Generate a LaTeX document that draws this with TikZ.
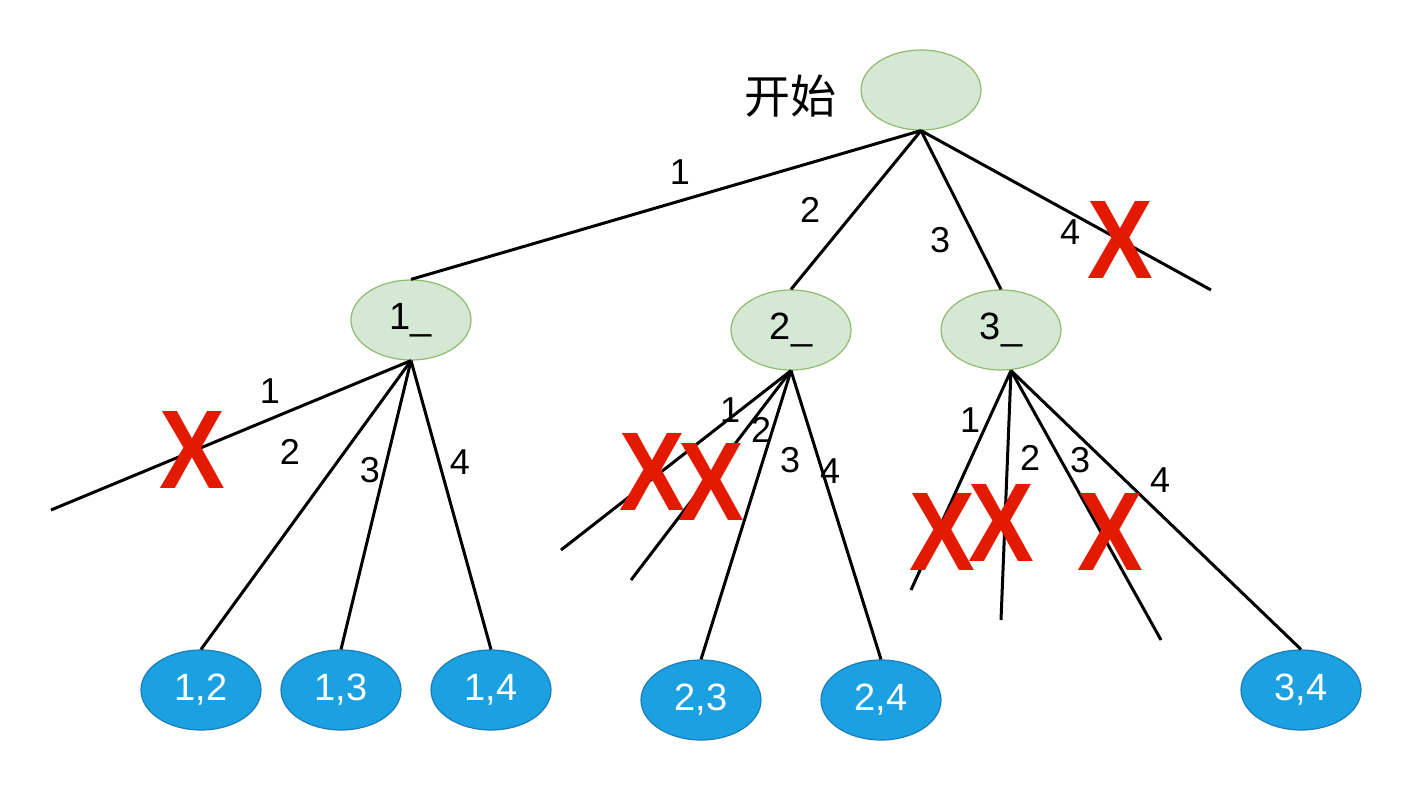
\documentclass[tikz,border=0pt]{standalone}
\usepackage{fontspec}
\setmainfont{Liberation Sans}
\newfontfamily\cjk{Noto Sans CJK SC}
\usetikzlibrary{shapes.geometric}
\definecolor{stategreen}{HTML}{D5E8D4}
\definecolor{stateline}{HTML}{8DBB70}
\definecolor{leafblue}{HTML}{1BA1E2}
\definecolor{leafline}{HTML}{1A7DB8}
\definecolor{crossred}{HTML}{E31A00}
\tikzset{
	state/.style={ellipse,draw=stateline,fill=stategreen,line width=0.6pt,minimum width=60pt,minimum height=40pt,inner sep=0pt,font=\fontsize{19}{19}\selectfont},
	leaf/.style={ellipse,draw=leafline,fill=leafblue,text=white,line width=0.6pt,minimum width=60pt,minimum height=40pt,inner sep=0pt,font=\fontsize{19}{19}\selectfont},
	lbl/.style={font=\fontsize{18}{18}\selectfont,inner sep=0pt},
	cross/.style={text=crossred,font=\bfseries\fontsize{56}{56}\selectfont,xscale=0.88,inner sep=0pt}
}
\begin{document}
\begin{tikzpicture}[x=0.5pt,y=-0.5pt,line width=1.5pt]
\useasboundingbox (0,0) rectangle (1412,792);
% states
\node[state] (root) at (921,90) {};
\node[font=\cjk\fontsize{23}{23}\selectfont] (start) at (790,96) {开始};
\node[state] (s1) at (411,320) {1\_};
\node[state] (s2) at (791,330) {2\_};
\node[state] (s3) at (1001,330) {3\_};
% solutions
\node[leaf] (l12) at (201,690) {1,2};
\node[leaf] (l13) at (341,690) {1,3};
\node[leaf] (l14) at (491,690) {1,4};
\node[leaf] (l23) at (701,700) {2,3};
\node[leaf] (l24) at (881,700) {2,4};
\node[leaf] (l34) at (1301,690) {3,4};
% dead ends
\coordinate (r4) at (1211,290);
\coordinate (a1) at (51,510);
\coordinate (b1) at (561,550);
\coordinate (b2) at (631,580);
\coordinate (c1) at (911,590);
\coordinate (c2) at (1001,620);
\coordinate (c3) at (1161,640);
% level 1
\draw (root.south) -- (s1.north);
\draw (root.south) -- (s2.north);
\draw (root.south) -- (s3.north);
\draw (root.south) -- (r4);
\node[lbl] at (680,172) {1};
\node[lbl] at (810,210) {2};
\node[lbl] at (940,240) {3};
\node[lbl] at (1070,232) {4};
% level 2
\draw (s1.south) -- (a1);
\draw (s1.south) -- (l12.north);
\draw (s1.south) -- (l13.north);
\draw (s1.south) -- (l14.north);
\node[lbl] at (270,391) {1};
\node[lbl] at (290,452) {2};
\node[lbl] at (370,470) {3};
\node[lbl] at (460,462) {4};
\draw (s2.south) -- (b1);
\draw (s2.south) -- (b2);
\draw (s2.south) -- (l23.north);
\draw (s2.south) -- (l24.north);
\node[lbl] at (730,410) {1};
\node[lbl] at (761,430) {2};
\node[lbl] at (790,460) {3};
\node[lbl] at (830,471) {4};
\draw ([xshift=5pt]s3.south) -- (c1);
\draw ([xshift=5pt]s3.south) -- (c2);
\draw ([xshift=5pt]s3.south) -- (c3);
\draw ([xshift=5pt]s3.south) -- (l34.north);
\node[lbl] at (970,420) {1};
\node[lbl] at (1030,458) {2};
\node[lbl] at (1080,460) {3};
\node[lbl] at (1160,480) {4};
% crosses
\node[cross] (x4) at (1120,240) {X};
\node[cross] (xa) at (192,450) {X};
\node[cross] (xb1) at (652,472) {X};
\node[cross] (xb2) at (711,482) {X};
\node[cross] (xc1) at (942,532) {X};
\node[cross] (xc2) at (1001,523) {X};
\node[cross] (xc3) at (1110,532) {X};
\end{tikzpicture}
\end{document}
